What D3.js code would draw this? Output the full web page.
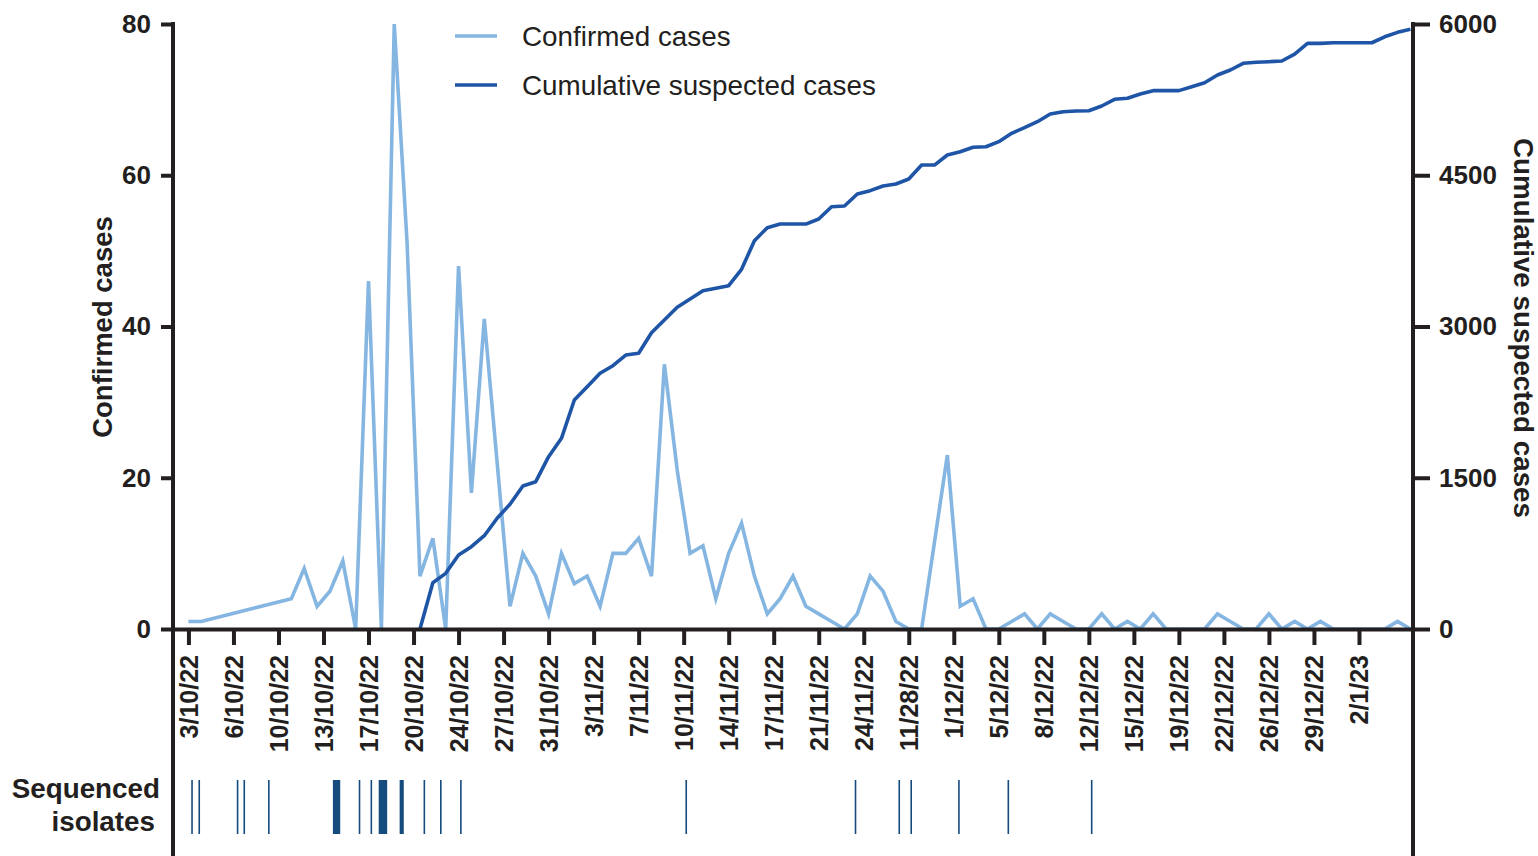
<!DOCTYPE html>
<html>
<head>
<meta charset="utf-8">
<script src="https://cdn.jsdelivr.net/npm/d3@7"></script>
<style>
  html, body { margin: 0; padding: 0; background: #fff; }
  svg { display: block; }
  text { font-family: "Liberation Sans", Arial, Helvetica, sans-serif; fill: #231f20; }
</style>
</head>
<body>
<svg id="chart" width="1538" height="856"></svg>
<script>
// ---- data ----
const tickLabels = ["3/10/22","6/10/22","10/10/22","13/10/22","17/10/22","20/10/22","24/10/22",
  "27/10/22","31/10/22","3/11/22","7/11/22","10/11/22","14/11/22","17/11/22","21/11/22",
  "24/11/22","11/28/22","1/12/22","5/12/22","8/12/22","12/12/22","15/12/22","19/12/22",
  "22/12/22","26/12/22","29/12/22","2/1/23"];
// day index (from 3/10/22) of each confirmed-case point
const confirmedDays = [0,1,8,9,10,11,12,13,14,15,16,17,18,19,20,21,22,23,25,26,27,28,29,30,31,32,33,34,
  35,36,37,38,39,40,41,42,43,44,45,46,47,48,49,50,51,52,53,54,55,56,57,59,60,61,62,63,64,65,66,67,68,69,
  70,71,72,73,74,75,76,77,78,79,80,81,82,83,84,85,86,87,88,89,90,91,92,93,94,95];
const confirmedCases = [1,1,4,8,3,5,9,0,46,0,80,51,7,12,0,48,18,41,3,10,7,2,10,6,7,3,10,10,
  12,7,35,21,10,11,4,10,14,7,2,4,7,3,2,1,0,2,7,5,1,0,0,23,3,4,0,0,1,2,0,2,1,0,
  0,2,0,1,0,2,0,0,0,0,2,1,0,0,2,0,1,0,1,0,0,0,0,0,1,0];
const suspectedDays = [18,19,20,21,22,23,24,25,26,27,28,29,30,31,32,33,34,35,36,37,38,39,40,41,42,43,44,
  45,46,47,48,49,50,51,52,53,54,55,56,57,58,59,60,61,62,63,64,65,66,67,68,69,70,71,72,73,74,75,76,77,78,
  79,80,81,82,83,84,85,86,87,88,89,90,91,92,93,94,95];
const cumulativeSuspected = [0,459,552,734,816,925,1098,1238,1418,1461,1709,1891,2271,2403,2536,2611,2717,
  2734,2938,3064,3190,3272,3355,3379,3405,3567,3851,3980,4016,4016,4016,4066,4188,4195,4314,4347,4393,
  4413,4463,4601,4601,4701,4733,4777,4783,4833,4916,4972,5031,5107,5130,5137,5140,5187,5253,5263,5306,
  5339,5339,5339,5378,5418,5494,5544,5610,5620,5626,5633,5702,5808,5808,5814,5814,5814,5814,5873,5917,5947];
// sequenced isolates: start and end (day index) of each mark
const isolateStart = [0.28,0.84,3.82,4.34,6.2,11.23,13.3,14.22,14.79,16.42,18.34,19.62,21.18,38.7,51.86,55.26,56.19,59.9,63.74,70.22];
const isolateEnd   = [0.28,0.84,3.82,4.34,6.3,11.8, 13.3,14.22,15.45,16.74,18.34,19.62,21.18,38.7,51.86,55.26,56.19,59.9,63.74,70.22];
const leftTicks = [0,20,40,60,80];
const rightTicks = [0,1500,3000,4500,6000];

// ---- layout ----
const svg = d3.select("#chart");
const X0 = 173, X1 = 1413, Y0 = 629, Y1 = 24;
const ink = "#231f20";
const lightBlue = "#85b6e2", darkBlue = "#1f55a6", isoBlue = "#164b7e";

const x = d3.scaleLinear().domain([-1.2, 95.2]).range([X0, X1]);
const yL = d3.scaleLinear().domain([0, 80]).range([Y0, Y1]);
const yR = d3.scaleLinear().domain([0, 6000]).range([Y0, Y1]);

// lines
const confirmed = confirmedDays.map((d, i) => ({d, v: confirmedCases[i]}));
const suspected = suspectedDays.map((d, i) => ({d, v: cumulativeSuspected[i]}));

svg.append("path").datum(confirmed)
  .attr("fill", "none").attr("stroke", lightBlue).attr("stroke-width", 3.6)
  .attr("stroke-linejoin", "miter")
  .attr("d", d3.line().x(p => x(p.d)).y(p => yL(p.v)));

svg.append("path").datum(suspected)
  .attr("fill", "none").attr("stroke", darkBlue).attr("stroke-width", 3.6)
  .attr("stroke-linejoin", "round")
  .attr("d", d3.line().x(p => x(p.d)).y(p => yR(p.v)));

// x axis
const xTickVals = tickLabels.map((_, i) => i * 3.5);
const gx = svg.append("g").attr("transform", `translate(0,${Y0})`)
  .call(d3.axisBottom(x).tickValues(xTickVals).tickFormat((d, i) => tickLabels[i])
    .tickSize(16).tickSizeOuter(0));
gx.select(".domain").attr("stroke", ink).attr("stroke-width", 4);
gx.selectAll(".tick line").attr("stroke", ink).attr("stroke-width", 4);
gx.selectAll(".tick text")
  .attr("transform", "rotate(-90)")
  .attr("text-anchor", "end")
  .attr("x", -26).attr("y", 0).attr("dy", "0.36em")
  .style("font-size", "25px").style("font-weight", "bold").attr("fill", ink);

// left axis
const gl = svg.append("g").attr("transform", `translate(${X0},0)`)
  .call(d3.axisLeft(yL).tickValues(leftTicks).tickSize(12).tickPadding(10).tickSizeOuter(0));
gl.select(".domain").remove();
gl.selectAll(".tick line").attr("stroke", ink).attr("stroke-width", 4);
gl.selectAll(".tick text").style("font-size", "26px").style("font-weight", "bold").attr("fill", ink);
svg.append("line").attr("x1", X0).attr("x2", X0).attr("y1", Y1 - 2).attr("y2", 856)
  .attr("stroke", ink).attr("stroke-width", 4);

// right axis
const gr = svg.append("g").attr("transform", `translate(${X1},0)`)
  .call(d3.axisRight(yR).tickValues(rightTicks).tickFormat(d3.format("d"))
    .tickSize(17).tickPadding(9).tickSizeOuter(0));
gr.select(".domain").remove();
gr.selectAll(".tick line").attr("stroke", ink).attr("stroke-width", 4);
gr.selectAll(".tick text").style("font-size", "26px").style("font-weight", "bold").attr("fill", ink);
svg.append("line").attr("x1", X1).attr("x2", X1).attr("y1", Y1 - 2).attr("y2", 856)
  .attr("stroke", ink).attr("stroke-width", 4);

// axis titles
svg.append("text").attr("transform", `translate(112,327) rotate(-90)`)
  .attr("text-anchor", "middle").style("font-size", "27.5px").style("font-weight", "bold")
  .text("Confirmed cases");
svg.append("text").attr("transform", `translate(1514,328) rotate(90)`)
  .attr("text-anchor", "middle").style("font-size", "27.8px").style("font-weight", "bold")
  .text("Cumulative suspected cases");

// legend
const legend = [
  {label: "Confirmed cases", color: lightBlue, y: 36},
  {label: "Cumulative suspected cases", color: darkBlue, y: 85}
];
const lg = svg.append("g");
legend.forEach(l => {
  lg.append("line").attr("x1", 455).attr("x2", 497).attr("y1", l.y).attr("y2", l.y)
    .attr("stroke", l.color).attr("stroke-width", 3.6);
  lg.append("text").attr("x", 522).attr("y", l.y + 10).style("font-size", "27.8px").text(l.label);
});

// sequenced isolates
const isoTop = 780, isoBottom = 834;
svg.append("g").selectAll("rect").data(isolateStart.map((s, i) => ({s, e: isolateEnd[i]})))
  .join("rect")
  .attr("x", d => { const w = Math.max(1.6, x(d.e) - x(d.s)); return (x(d.s) + x(d.e)) / 2 - w / 2; })
  .attr("width", d => Math.max(1.6, x(d.e) - x(d.s)))
  .attr("y", isoTop).attr("height", isoBottom - isoTop)
  .attr("fill", isoBlue);

svg.append("text").attr("x", 160).attr("y", 798).attr("text-anchor", "end")
  .style("font-size", "27.8px").style("font-weight", "bold").text("Sequenced");
svg.append("text").attr("x", 155).attr("y", 831).attr("text-anchor", "end")
  .style("font-size", "27.8px").style("font-weight", "bold").text("isolates");
</script>
</body>
</html>
